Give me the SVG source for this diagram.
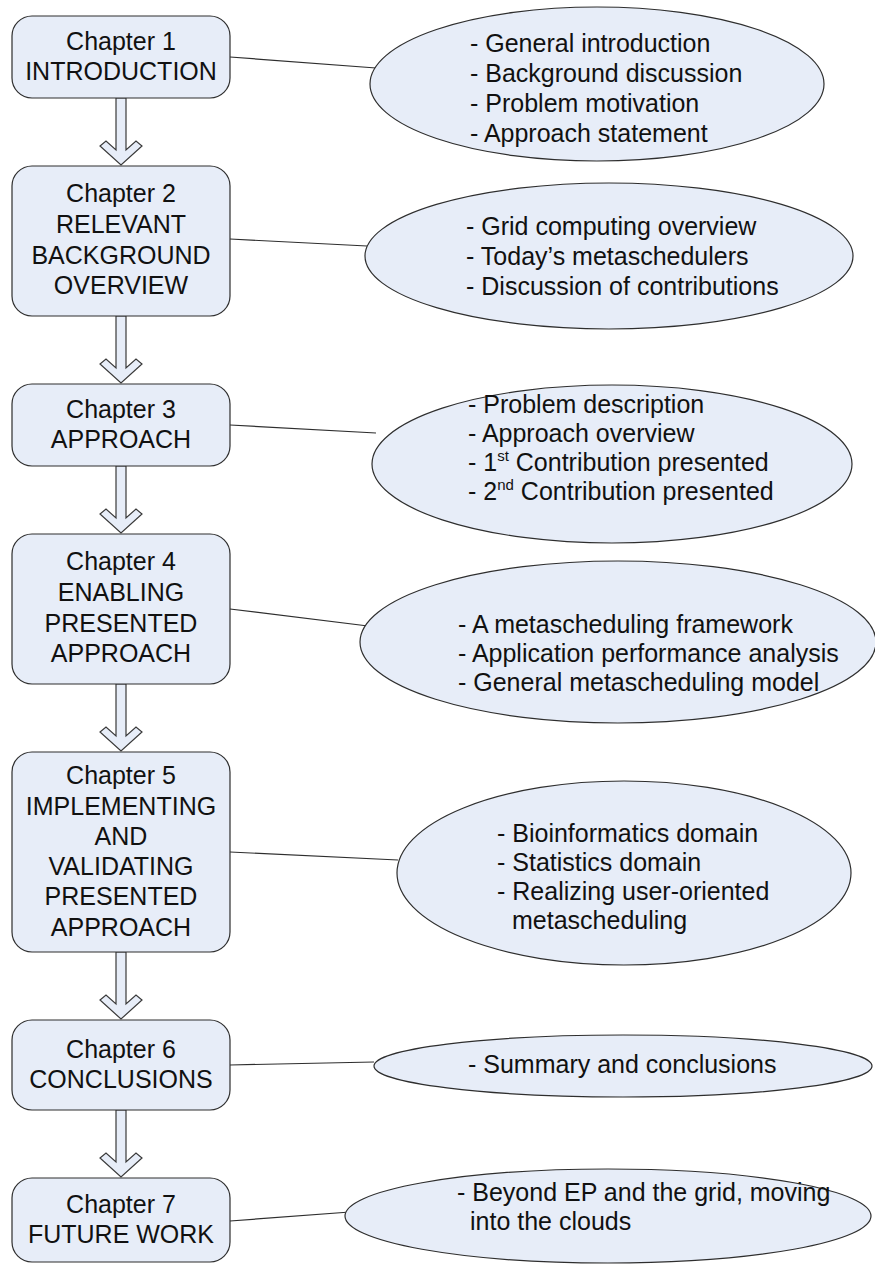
<svg xmlns="http://www.w3.org/2000/svg" width="875" height="1264" viewBox="0 0 875 1264">
  <style>
    .box { fill: #e7edf8; stroke: #2e2e2e; stroke-width: 1.2; }
    .oval { fill: #e7edf8; stroke: #2e2e2e; stroke-width: 1.2; }
    .flow { fill: #e7edf8; stroke: #3a3a3a; stroke-width: 1.2; stroke-linejoin: miter; }
    .link { fill: none; stroke: #2e2e2e; stroke-width: 1.2; }
    text { font-family: "Liberation Sans", Arial, sans-serif; font-size: 25px; fill: #111; }
    .c { text-anchor: middle; }
  </style>
  <defs>
    <!-- hollow chevron block arrow, 68px long, origin at the top of the shaft -->
    <polygon id="down" points="-5,0 -5,52 -15,43 -21,48 0,67 21,48 15,43 5,52 5,0"/>
  </defs>

  <!-- connectors: chapter box to its summary oval, and the flow arrows -->
  <g id="connectors">
    <line class="link" x1="230" y1="57" x2="376" y2="68"/>
    <line class="link" x1="230" y1="239" x2="367" y2="246"/>
    <line class="link" x1="230" y1="425" x2="376" y2="433"/>
    <line class="link" x1="230" y1="609" x2="368" y2="626"/>
    <line class="link" x1="230" y1="852" x2="398" y2="860"/>
    <line class="link" x1="230" y1="1065" x2="374" y2="1062"/>
    <line class="link" x1="230" y1="1221" x2="350" y2="1212"/>
    <use href="#down" class="flow" x="121" y="98"/>
    <use href="#down" class="flow" x="121" y="316"/>
    <use href="#down" class="flow" x="121" y="466"/>
    <use href="#down" class="flow" x="121" y="684"/>
    <use href="#down" class="flow" x="121" y="952"/>
    <use href="#down" class="flow" x="121" y="1110"/>
  </g>

  <g id="ch1">
    <rect class="box" x="12" y="16" width="218" height="82" rx="20"/>
    <text class="c" x="121" y="50">Chapter 1</text>
    <text class="c" x="121" y="80">INTRODUCTION</text>
  </g>
  <g id="ch2">
    <rect class="box" x="12" y="166" width="218" height="150" rx="20"/>
    <text class="c" x="121" y="202">Chapter 2</text>
    <text class="c" x="121" y="233">RELEVANT</text>
    <text class="c" x="121" y="264">BACKGROUND</text>
    <text class="c" x="121" y="294">OVERVIEW</text>
  </g>
  <g id="ch3">
    <rect class="box" x="12" y="384" width="218" height="82" rx="20"/>
    <text class="c" x="121" y="418">Chapter 3</text>
    <text class="c" x="121" y="448">APPROACH</text>
  </g>
  <g id="ch4">
    <rect class="box" x="12" y="534" width="218" height="150" rx="20"/>
    <text class="c" x="121" y="570">Chapter 4</text>
    <text class="c" x="121" y="601">ENABLING</text>
    <text class="c" x="121" y="632">PRESENTED</text>
    <text class="c" x="121" y="662">APPROACH</text>
  </g>
  <g id="ch5">
    <rect class="box" x="12" y="752" width="218" height="200" rx="20"/>
    <text class="c" x="121" y="784">Chapter 5</text>
    <text class="c" x="121" y="815">IMPLEMENTING</text>
    <text class="c" x="121" y="845">AND</text>
    <text class="c" x="121" y="875">VALIDATING</text>
    <text class="c" x="121" y="905">PRESENTED</text>
    <text class="c" x="121" y="936">APPROACH</text>
  </g>
  <g id="ch6">
    <rect class="box" x="12" y="1020" width="218" height="90" rx="20"/>
    <text class="c" x="121" y="1058">Chapter 6</text>
    <text class="c" x="121" y="1088">CONCLUSIONS</text>
  </g>
  <g id="ch7">
    <rect class="box" x="12" y="1178" width="218" height="84" rx="20"/>
    <text class="c" x="121" y="1213">Chapter 7</text>
    <text class="c" x="121" y="1243">FUTURE WORK</text>
  </g>

  <g id="sum1">
    <ellipse class="oval" cx="597" cy="84" rx="227" ry="77"/>
    <text x="470" y="52">- General introduction</text>
    <text x="470" y="82">- Background discussion</text>
    <text x="470" y="112">- Problem motivation</text>
    <text x="470" y="142">- Approach statement</text>
  </g>
  <g id="sum2">
    <ellipse class="oval" cx="609" cy="256" rx="244" ry="73"/>
    <text x="466" y="235">- Grid computing overview</text>
    <text x="466" y="265">- Today’s metaschedulers</text>
    <text x="466" y="295">- Discussion of contributions</text>
  </g>
  <g id="sum3">
    <ellipse class="oval" cx="612" cy="464" rx="240" ry="79"/>
    <text x="468" y="413">- Problem description</text>
    <text x="468" y="442">- Approach overview</text>
    <text x="468" y="471">- 1<tspan font-size="15" dy="-10">st</tspan><tspan dy="10"> Contribution presented</tspan></text>
    <text x="468" y="500">- 2<tspan font-size="15" dy="-10">nd</tspan><tspan dy="10"> Contribution presented</tspan></text>
  </g>
  <g id="sum4">
    <ellipse class="oval" cx="618" cy="642" rx="258" ry="81"/>
    <text x="458" y="633">- A metascheduling framework</text>
    <text x="458" y="662">- Application performance analysis</text>
    <text x="458" y="691">- General metascheduling model</text>
  </g>
  <g id="sum5">
    <ellipse class="oval" cx="624" cy="873" rx="227" ry="92"/>
    <text x="497" y="842">- Bioinformatics domain</text>
    <text x="497" y="871">- Statistics domain</text>
    <text x="497" y="900">- Realizing user-oriented</text>
    <text x="512" y="929">metascheduling</text>
  </g>
  <g id="sum6">
    <ellipse class="oval" cx="623" cy="1066" rx="249" ry="31"/>
    <text x="468" y="1073">- Summary and conclusions</text>
  </g>
  <g id="sum7">
    <ellipse class="oval" cx="608" cy="1216" rx="263" ry="47"/>
    <text x="457" y="1201">- Beyond EP and the grid, moving</text>
    <text x="470" y="1230">into the clouds</text>
  </g>
</svg>
